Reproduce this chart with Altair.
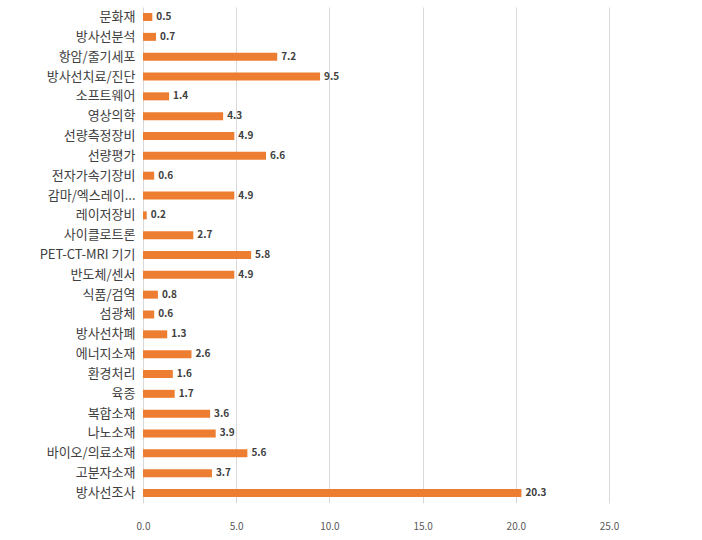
import altair as alt
import pandas as pd

categories = ["문화재", "방사선분석", "항암/줄기세포", "방사선치료/진단", "소프트웨어", "영상의학",
              "선량측정장비", "선량평가", "전자가속기장비", "감마/엑스레이...", "레이저장비", "사이클로트론",
              "PET-CT-MRI 기기", "반도체/센서", "식품/검역", "섬광체", "방사선차폐", "에너지소재",
              "환경처리", "육종", "복합소재", "나노소재", "바이오/의료소재", "고분자소재", "방사선조사"]
values = [0.5, 0.7, 7.2, 9.5, 1.4, 4.3, 4.9, 6.6, 0.6, 4.9, 0.2, 2.7, 5.8, 4.9, 0.8, 0.6, 1.3,
          2.6, 1.6, 1.7, 3.6, 3.9, 5.6, 3.7, 20.3]
x_ticks = [0, 5, 10, 15, 20, 25]

df = pd.DataFrame({"category": categories, "value": values})
df["label"] = df["value"].map(lambda v: f"{v:.1f}")

font = "Noto Sans CJK KR"

x = alt.X("value:Q", scale=alt.Scale(domain=[0, 25], nice=False),
          axis=alt.Axis(values=x_ticks, format=".1f", title=None, domain=False, ticks=False,
                        labelPadding=18, labelFontSize=10, labelColor="#595959", labelFont=font,
                        labelFlush=False,
                        grid=True, gridColor="#d9d9d9", gridWidth=1))
y = alt.Y("category:N", sort=categories,
          scale=alt.Scale(paddingInner=0.55, paddingOuter=0.28),
          axis=alt.Axis(title=None, domain=False, ticks=False, labelFontSize=13,
                        labelColor="#404040", labelFont=font, labelPadding=8, labelLimit=200))

bars = alt.Chart(df).mark_bar(color="#ED7D31", size=8).encode(x=x, y=y)
text = alt.Chart(df).mark_text(align="left", baseline="middle", dx=4, fontSize=10,
                               fontWeight="bold", color="#404040", font=font).encode(
    x="value:Q", y=alt.Y("category:N", sort=categories), text="label:N")

chart = (bars + text).properties(
    width=466, height=496,
    autosize=alt.AutoSizeParams(type="none"),
    padding={"left": 143, "top": 7, "right": 93, "bottom": 37},
).configure_view(stroke=None)

chart.save("out.html", embed_options={"renderer": "svg", "actions": False})
